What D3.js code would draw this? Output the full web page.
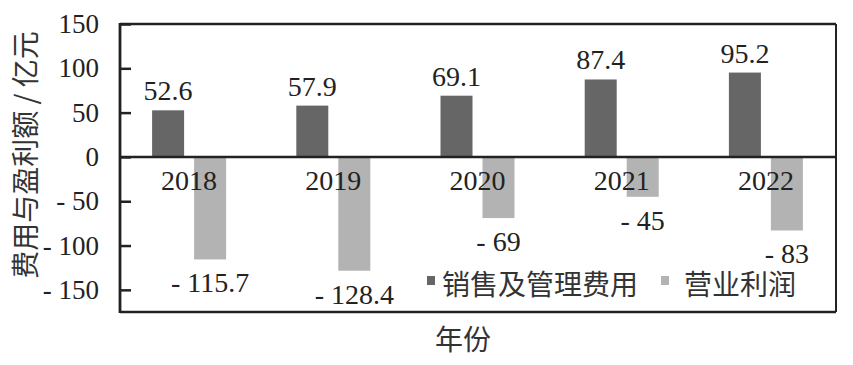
<!DOCTYPE html>
<html>
<head>
<meta charset="utf-8">
<script src="https://cdn.jsdelivr.net/npm/d3@7"></script>
<style>
  html, body { margin: 0; padding: 0; background: #fff; }
  svg { display: block; }
</style>
</head>
<body>
<svg id="chart" width="853" height="365"></svg>
<script>
const years = ["2018", "2019", "2020", "2021", "2022"];
const seriesNames = ["销售及管理费用", "营业利润"];
const expenses = [52.6, 57.9, 69.1, 87.4, 95.2];
const profit = [-115.7, -128.4, -69, -45, -83];
const yTicks = [150, 100, 50, 0, -50, -100, -150];
const yTitle = "费用与盈利额 / 亿元";
const xTitle = "年份";

(function () {
const colors = ["#666666", "#b3b3b3"];
const numFont = "Liberation Serif";
const cjkFont = "Noto Sans CJK SC";
const ink = "#222";
const cjkInk = "#333";

const svg = d3.select("#chart");
const pL = 120, pR = 836, pT = 24, pB = 312;

const y = d3.scaleLinear().domain([-175, 150]).range([pB, pT]);
const x0 = d3.scaleBand().domain(years).range([117, 838]);
const x1 = d3.scaleBand().domain([0, 1]).range([0, 74]).paddingInner(0.238);
const groupOffset = x0.bandwidth() / 2 - 37;

const data = years.map((yr, i) => ({ year: yr, vals: [expenses[i], profit[i]] }));

// bars
const g = svg.append("g");
const groups = g.selectAll("g.grp").data(data).join("g")
  .attr("transform", d => `translate(${x0(d.year) + groupOffset},0)`);
groups.selectAll("rect").data(d => d.vals.map((v, k) => ({ v, k }))).join("rect")
  .attr("x", d => x1(d.k))
  .attr("width", x1.bandwidth())
  .attr("y", d => Math.min(y(d.v), y(0)))
  .attr("height", d => Math.abs(y(d.v) - y(0)))
  .attr("fill", d => colors[d.k]);

// value labels
const fmt = v => v < 0 ? "- " + Math.abs(v) : String(v);
groups.selectAll("text.val").data(d => d.vals.map((v, k) => ({ v, k }))).join("text")
  .attr("class", "val")
  .attr("x", d => x1(d.k) + x1.bandwidth() / 2)
  .attr("y", d => d.v >= 0 ? y(d.v) - 10 : y(d.v) + 33)
  .attr("text-anchor", "middle")
  .attr("font-family", numFont)
  .attr("font-size", 28)
  .attr("fill", ink)
  .text(d => fmt(d.v));

// year labels
svg.selectAll("text.yr").data(years).join("text")
  .attr("class", "yr")
  .attr("x", d => x0(d) + x0.bandwidth() / 2)
  .attr("y", 190)
  .attr("text-anchor", "middle")
  .attr("font-family", numFont)
  .attr("font-size", 28)
  .attr("fill", ink)
  .text(d => d);

// frame
svg.append("line").attr("x1", pL).attr("x2", pR).attr("y1", pT).attr("y2", pT)
  .attr("stroke", ink).attr("stroke-width", 2.3);
svg.append("line").attr("x1", pR).attr("x2", pR).attr("y1", pT).attr("y2", pB)
  .attr("stroke", ink).attr("stroke-width", 2);
svg.append("line").attr("x1", pL).attr("x2", pR).attr("y1", pB).attr("y2", pB)
  .attr("stroke", ink).attr("stroke-width", 2.5);
svg.append("line").attr("x1", pL).attr("x2", pR).attr("y1", y(0)).attr("y2", y(0))
  .attr("stroke", ink).attr("stroke-width", 2.5);

// y axis
const yAxis = d3.axisLeft(y).tickValues(yTicks).tickSizeInner(-11).tickSizeOuter(0)
  .tickPadding(21).tickFormat(fmt);
const ya = svg.append("g").attr("transform", `translate(${pL},0)`).call(yAxis);
ya.select(".domain").attr("stroke", ink).attr("stroke-width", 2.8)
  .attr("d", `M0,${pT - 1}V${pB + 1}`);
ya.selectAll(".tick line").attr("stroke", ink).attr("stroke-width", 2.5);
ya.selectAll(".tick text").attr("font-family", numFont).attr("font-size", 27).attr("fill", ink);

// axis titles
svg.append("text")
  .attr("transform", "translate(36,155) rotate(-90)")
  .attr("text-anchor", "middle")
  .attr("font-family", cjkFont)
  .attr("font-size", 28).attr("fill", cjkInk)
  .text(yTitle);
svg.append("text")
  .attr("x", 463).attr("y", 350)
  .attr("text-anchor", "middle")
  .attr("font-family", cjkFont)
  .attr("font-size", 28).attr("fill", cjkInk)
  .text(xTitle);

// legend
const legendX = [427, 661];
const lg = svg.selectAll("g.leg").data(seriesNames).join("g")
  .attr("class", "leg")
  .attr("transform", (d, i) => `translate(${legendX[i]},276)`);
lg.append("rect").attr("width", 8).attr("height", 9).attr("fill", (d, i) => colors[i]);
lg.append("text").attr("x", (d, i) => i === 0 ? 15 : 23).attr("y", 19)
  .attr("font-family", cjkFont)
  .attr("font-size", 28).attr("fill", cjkInk)
  .text(d => d);
})();
</script>
</body>
</html>
